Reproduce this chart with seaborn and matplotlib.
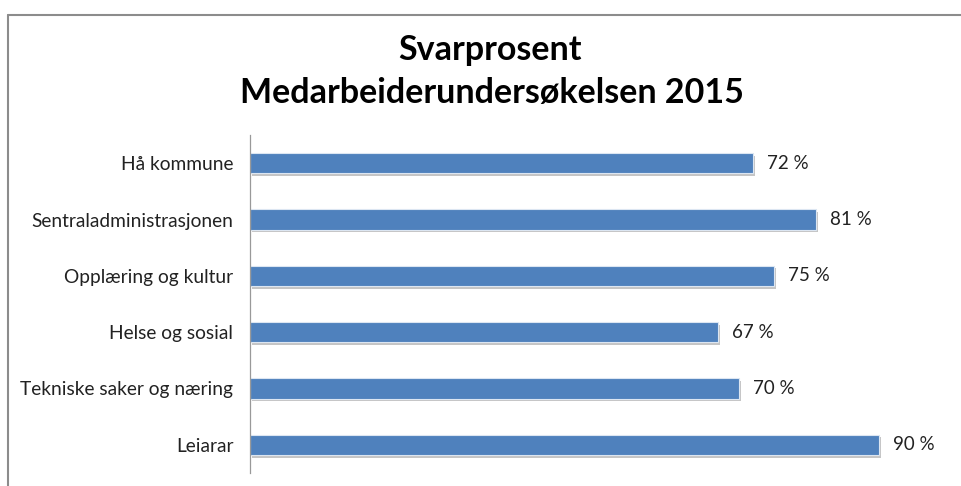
import matplotlib
matplotlib.use("Agg")
import matplotlib.pyplot as plt
import matplotlib.patheffects as pe
from matplotlib.lines import Line2D
import seaborn as sns
import pandas as pd

categories = ["Hå kommune", "Sentraladministrasjonen", "Opplæring og kultur",
              "Helse og sosial", "Tekniske saker og næring", "Leiarar"]
values = [72, 81, 75, 67, 70, 90]
title_lines = ["Svarprosent", "Medarbeiderundersøkelsen 2015"]

sns.set_theme(style="white")
plt.rcParams['font.family'] = ['Lato', 'DejaVu Sans']

df = pd.DataFrame({"cat": categories, "val": values})

fig = plt.figure(figsize=(9.62, 4.86), dpi=100)
ax = fig.add_axes([250/962, 13/486, 699/962, 338/486])

sns.barplot(data=df, y="cat", x="val", orient="h", color="#4F81BD",
            saturation=1, width=0.36, ax=ax, edgecolor="#dce6f2", linewidth=0.8)

for p in ax.patches:
    p.set_path_effects([pe.SimplePatchShadow(offset=(1.5, -2.0), shadow_rgbFace="#808080", alpha=0.45),
                        pe.Normal()])

for i, v in enumerate(values):
    ax.text(v + 2, i, f"{v} %", va="center", ha="left", fontsize=13.5, color="#222222")

ax.set_xlim(0, 100)
ax.set_ylim(5.5, -0.5)
ax.set_xlabel("")
ax.set_ylabel("")
ax.set_xticks([])
ax.tick_params(axis="y", length=0, labelsize=13.8, colors="#222222", pad=12)
for s in ["top", "right", "bottom"]:
    ax.spines[s].set_visible(False)
ax.spines["left"].set_color("#999999")
ax.spines["left"].set_linewidth(0.9)

fig.text(490/962, 1 - 50/486, title_lines[0], ha="center", va="center",
         fontsize=24.5, fontweight="bold", color="black")
fig.text(492/962, 1 - 93/486, title_lines[1], ha="center", va="center",
         fontsize=24.5, fontweight="bold", color="black")

# outer frame (top and left edges visible)
fig.add_artist(Line2D([8/962, 1.0], [1 - 15/486, 1 - 15/486], transform=fig.transFigure,
                      color="#8c8c8c", linewidth=1.5))
fig.add_artist(Line2D([8/962, 8/962], [0, 1 - 15/486], transform=fig.transFigure,
                      color="#8c8c8c", linewidth=1.5))

fig.savefig("out.png", dpi=100)
